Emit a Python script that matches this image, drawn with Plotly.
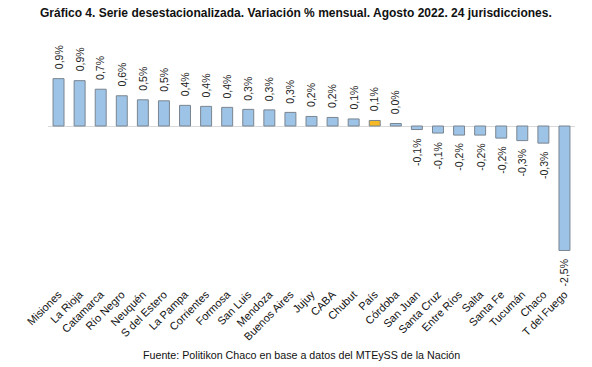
import plotly.graph_objects as go

categories = ["Misiones", "La Rioja", "Catamarca", "Río Negro", "Neuquén", "S del Estero",
              "La Pampa", "Corrientes", "Formosa", "San Luis", "Mendoza", "Buenos Aires",
              "Jujuy", "CABA", "Chubut", "País", "Córdoba", "San Juan", "Santa Cruz",
              "Entre Ríos", "Salta", "Santa Fe", "Tucumán", "Chaco", "T del Fuego"]
values = [0.94, 0.90, 0.73, 0.60, 0.52, 0.50, 0.41, 0.39, 0.37, 0.33, 0.32, 0.27,
          0.19, 0.17, 0.14, 0.11, 0.05, -0.07, -0.14, -0.18, -0.18, -0.24, -0.29, -0.34, -2.47]
labels = ["0,9%", "0,9%", "0,7%", "0,6%", "0,5%", "0,5%", "0,4%", "0,4%", "0,4%", "0,3%",
          "0,3%", "0,3%", "0,2%", "0,2%", "0,1%", "0,1%", "0,0%", "-0,1%", "-0,1%", "-0,2%",
          "-0,2%", "-0,2%", "-0,3%", "-0,3%", "-2,5%"]
highlight = "País"

colors = ["#F4B925" if c == highlight else "#9DC3E6" for c in categories]

fig = go.Figure()
fig.add_trace(go.Bar(
    x=categories, y=values,
    marker=dict(color=colors, line=dict(color="#7A8590", width=1)),
    width=0.52,
    hoverinfo="skip",
))

for c, v, t in zip(categories, values, labels):
    fig.add_annotation(
        x=c, y=v, text=t, showarrow=False, textangle=-90,
        yanchor="bottom" if v >= 0 else "top",
        yshift=7 if v >= 0 else -7,
        font=dict(family="Liberation Sans, Arial", size=10.5, color="#222222"),
    )

fig.add_annotation(
    text="<b>Gráfico 4. Serie desestacionalizada. Variación % mensual. Agosto 2022. 24 jurisdicciones.</b>",
    xref="paper", yref="paper", x=0.4715, y=1, yshift=22, xanchor="center", yanchor="middle",
    showarrow=False, font=dict(family="Liberation Sans, Arial", size=12, color="#111111"),
)
fig.add_annotation(
    text="Fuente: Politikon Chaco en base a datos del MTEySS de la Nación",
    xref="paper", yref="paper", x=0.481, y=0, yshift=-70, xanchor="center", yanchor="middle",
    showarrow=False, font=dict(family="Liberation Sans, Arial", size=10.7, color="#111111"),
)

fig.update_layout(
    width=592, height=367,
    margin=dict(l=48, r=17, t=35, b=82),
    paper_bgcolor="white", plot_bgcolor="white",
    showlegend=False,
    hovermode=False,
    xaxis=dict(tickangle=-45, showgrid=False, showline=False, ticks="", automargin=False,
               fixedrange=True,
               tickfont=dict(family="Liberation Sans, Arial", size=11, color="#111111")),
    yaxis=dict(range=[-3.155, 1.806], showgrid=False, showticklabels=False, automargin=False,
               fixedrange=True,
               zeroline=True, zerolinecolor="#D9D9D9", zerolinewidth=1, ticks=""),
)

fig.write_html("out.html", config={"displayModeBar": False, "staticPlot": True},
               post_script="document.body.style.margin='0';document.body.style.overflow='hidden';")
